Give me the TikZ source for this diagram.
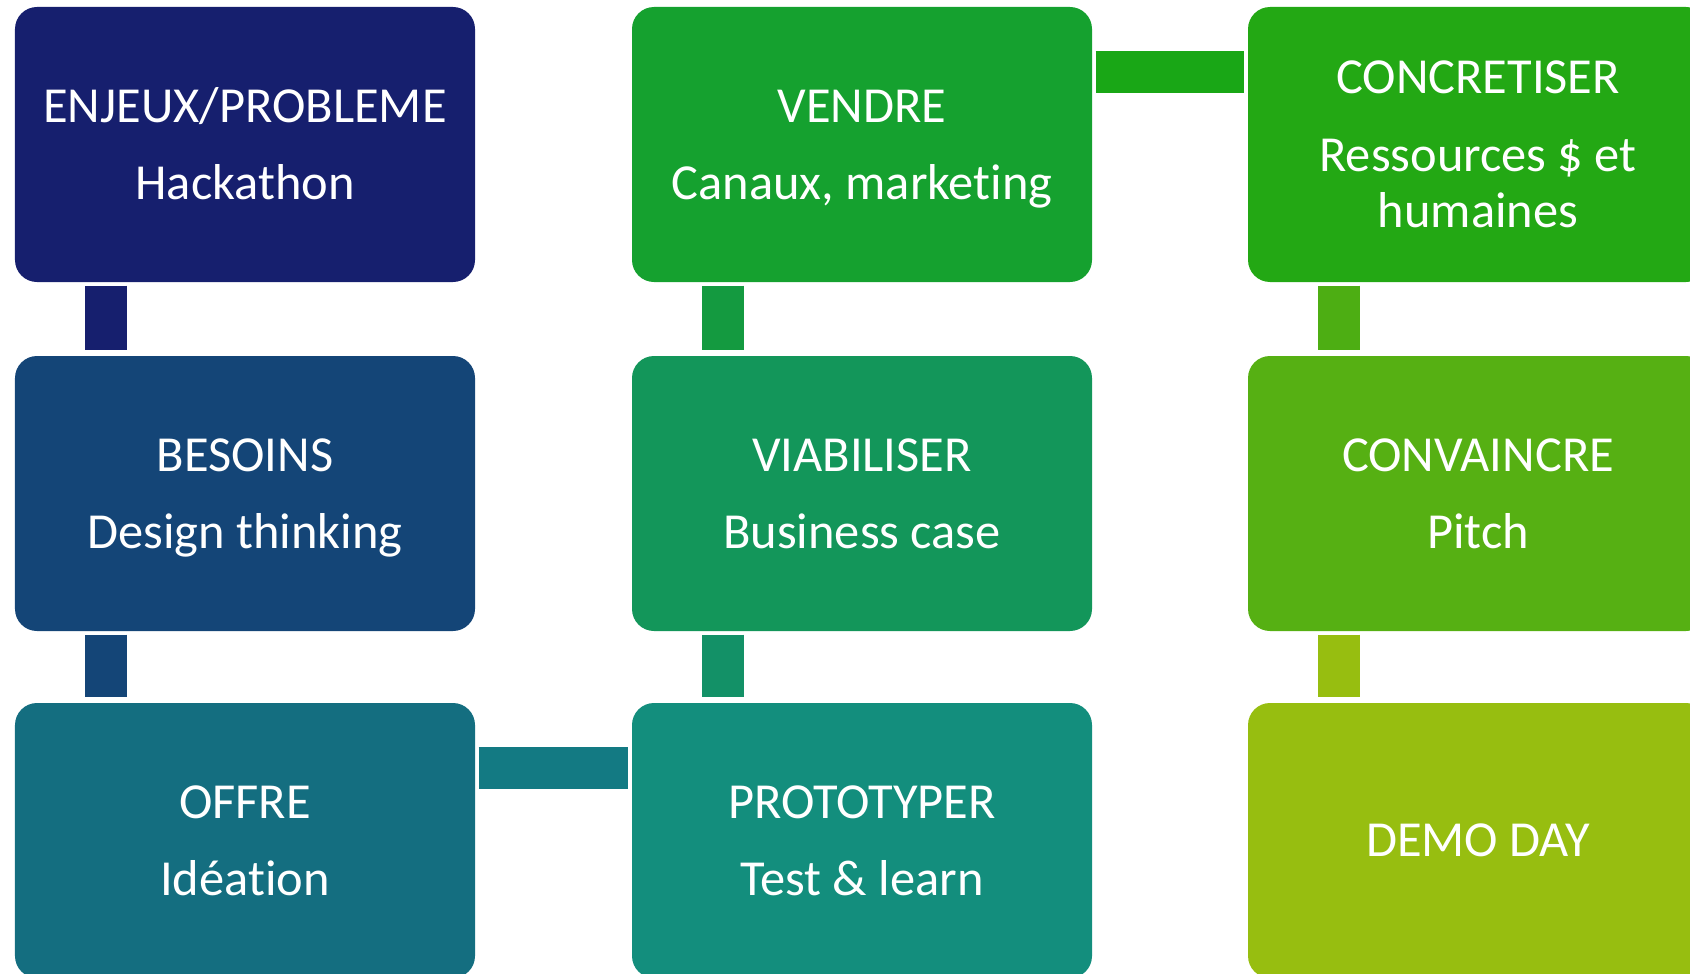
\documentclass[tikz,border=0pt]{standalone}
\usepackage{fontspec}
\setmainfont[Ligatures=NoCommon]{Carlito}
\usepackage{tikz}
\usepackage{xcolor}
\usetikzlibrary{positioning}

\definecolor{enjeuxc}{HTML}{161F6E}
\definecolor{besoinsc}{HTML}{144577}
\definecolor{offrec}{HTML}{146E80}
\definecolor{protoc}{HTML}{138E7D}
\definecolor{viabc}{HTML}{13965A}
\definecolor{vendrec}{HTML}{15A12F}
\definecolor{concretc}{HTML}{23A814}
\definecolor{convc}{HTML}{56B013}
\definecolor{democ}{HTML}{97BE10}
\definecolor{linkoffre}{HTML}{137A83}
\definecolor{linkviab}{HTML}{139167}
\definecolor{linkvendre}{HTML}{149A40}
\definecolor{linktop}{HTML}{19A716}
\definecolor{linkconc}{HTML}{4DAE13}

\begin{document}
\begin{tikzpicture}
  [every node/.style={rectangle,rounded corners=0.22cm,minimum width=4.6cm,
     minimum height=2.75cm,inner sep=0pt,align=center,text=white,
     font=\fontsize{14.35}{16}\selectfont,text depth=0pt,text height=31.2pt},
   oneline/.style={text height=9.2pt},
   threelines/.style={text height=47.2pt},
   vlink/.style={line width=0.42cm,shorten <=0.03cm,shorten >=0.05cm},
   hlink/.style={line width=0.42cm,shorten <=0.03cm,shorten >=0.03cm}]
  \useasboundingbox (0,0) rectangle (16.9,-9.73);

  \node[fill=enjeuxc] (enjeux) at (2.45,-1.445) {ENJEUX/PROBLEME\\[6pt]Hackathon};
  \node[fill=besoinsc] (besoins) at (2.45,-4.935) {BESOINS\\[6pt]Design thinking};
  \node[fill=offrec] (offre) at (2.45,-8.405) {OFFRE\\[6pt]Idéation};
  \node[fill=vendrec] (vendre) at (8.62,-1.445) {VENDRE\\[6pt]Canaux, marketing};
  \node[fill=viabc] (viabiliser) at (8.62,-4.935) {VIABILISER\\[6pt]Business case};
  \node[fill=protoc] (prototyper) at (8.62,-8.405) {PROTOTYPER\\[6pt]Test \& learn};
  \node[fill=concretc,threelines] (concretiser) at (14.78,-1.445) {CONCRETISER\\[6pt]Ressources \$ et\\humaines};
  \node[fill=convc] (convaincre) at (14.78,-4.935) {CONVAINCRE\\[6pt]Pitch};
  \node[fill=democ,oneline] (demo) at (14.78,-8.405) {DEMO DAY};

  % vertical links, near the left side of each box
  \foreach \from/\to/\col in {enjeux/besoins/enjeuxc,besoins/offre/besoinsc,
      vendre/viabiliser/linkvendre,viabiliser/prototyper/linkviab,
      concretiser/convaincre/linkconc,convaincre/demo/democ}
    \draw[vlink,\col] ([xshift=0.92cm]\from.south west) -- ([xshift=0.92cm]\to.north west);

  % horizontal links
  \foreach \from/\to/\col in {offre/prototyper/linkoffre,vendre/concretiser/linktop}
    \draw[hlink,\col] ([yshift=-0.66cm]\from.north east) -- ([yshift=-0.66cm]\to.north west);

\end{tikzpicture}
\end{document}
